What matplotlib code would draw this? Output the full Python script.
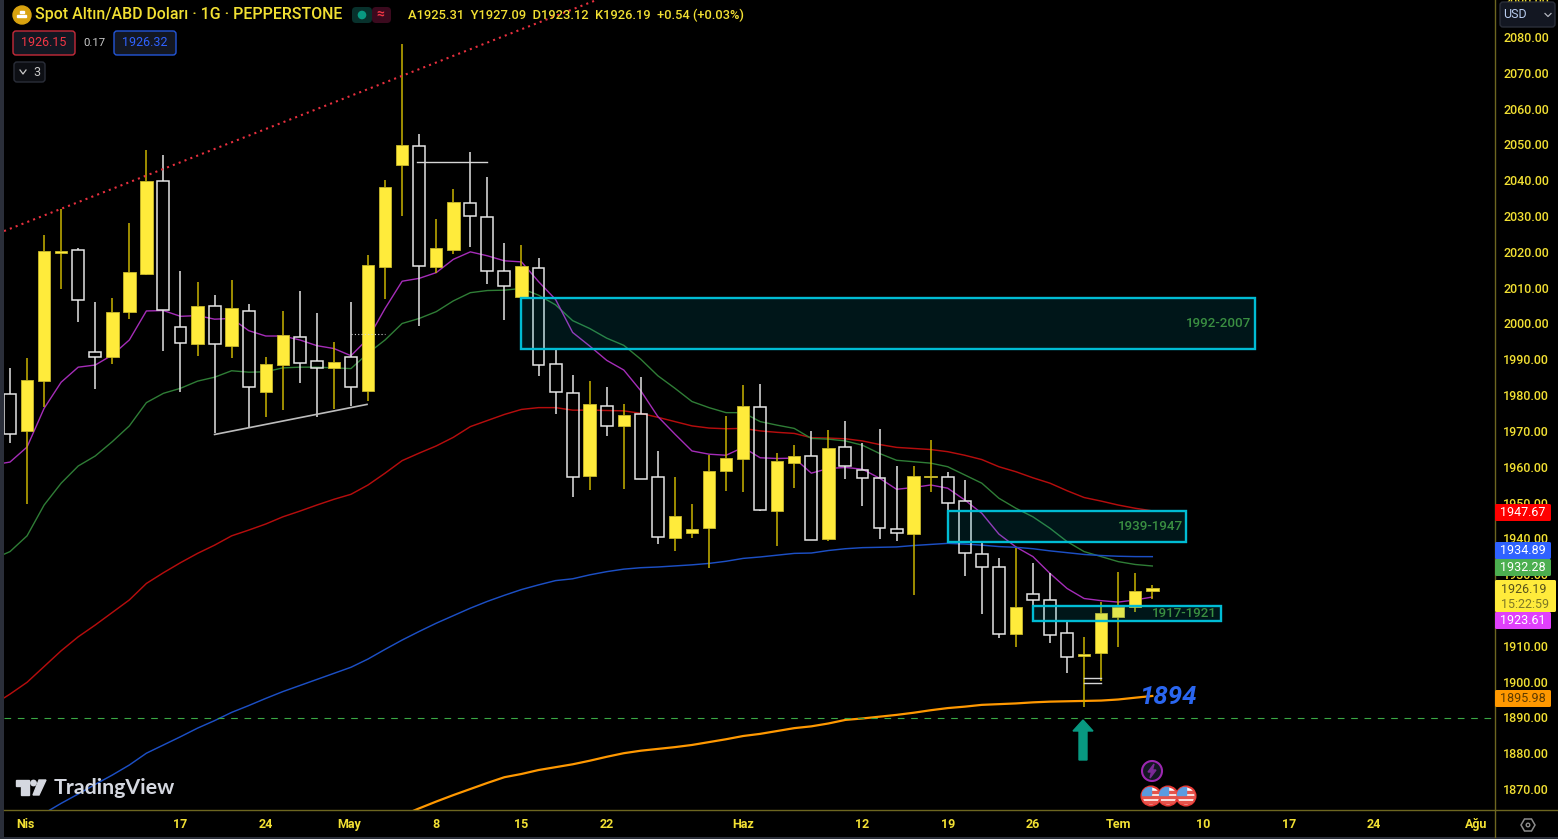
import numpy as np
import matplotlib
matplotlib.use('Agg')
import matplotlib.pyplot as plt
from matplotlib.patches import Circle, FancyBboxPatch, Polygon, Rectangle

plt.rcParams['font.family'] = ['Roboto', 'DejaVu Sans']

# daily candles
opens = [1980.2, 1969.9, 1983.8, 2019.6, 2020.5, 1992.1, 1990.6, 2003.1, 2013.9, 2039.9,
         1998.9, 1994.4, 2005.0, 1993.7, 2003.5, 1981.0, 1988.3, 1996.3, 1989.6, 1987.5,
         1990.7, 1981.2, 2015.9, 2044.3, 2049.6, 2015.7, 2020.5, 2033.6, 2029.6, 2014.6,
         2007.3, 2015.4, 1988.7, 1980.7, 1957.4, 1977.0, 1971.3, 1974.8, 1957.1, 1940.0,
         1941.4, 1942.8, 1958.7, 1962.2, 1976.8, 1947.6, 1961.0, 1963.1, 1939.7, 1965.4,
         1959.2, 1956.8, 1942.7, 1941.1, 1957.0, 1957.2, 1950.3, 1935.5, 1931.9, 1913.3,
         1924.4, 1922.7, 1913.6, 1907.1, 1907.9, 1918.1, 1920.7, 1925.31]
highs = [1987.5, 1990.3, 2024.7, 2032.1, 2021.2, 2006.1, 2007.2, 2028.0, 2048.4, 2047.0,
         2014.6, 2011.5, 2007.9, 2012.1, 2005.3, 1990.5, 2003.6, 2009.0, 2003.0, 1994.7,
         2005.9, 2019.2, 2040.2, 2078.0, 2052.8, 2029.2, 2037.5, 2048.0, 2040.8, 2022.4,
         2021.9, 2018.2, 1992.6, 1985.6, 1983.9, 1982.3, 1977.5, 1985.1, 1964.4, 1957.0,
         1949.6, 1963.3, 1974.3, 1982.8, 1983.1, 1963.7, 1966.1, 1970.1, 1970.3, 1972.9,
         1966.5, 1970.6, 1960.1, 1960.1, 1967.5, 1958.4, 1956.3, 1939.0, 1934.5, 1937.2,
         1933.0, 1930.2, 1916.7, 1912.5, 1922.3, 1930.5, 1930.2, 1927.09]
lows = [1966.7, 1949.6, 1976.8, 2009.6, 2000.5, 1981.6, 1988.6, 2001.2, 2013.6, 1992.4,
        1981.0, 1990.9, 1969.3, 1990.3, 1971.2, 1973.8, 1975.8, 1983.3, 1974.0, 1976.1,
        1977.0, 1978.3, 2006.8, 2030.1, 1999.4, 2014.2, 2019.3, 2021.3, 2011.1, 2000.9,
        2007.0, 1985.2, 1974.7, 1951.6, 1953.5, 1968.7, 1953.9, 1956.5, 1938.5, 1936.5,
        1940.0, 1931.7, 1953.3, 1953.0, 1947.7, 1938.0, 1954.1, 1939.4, 1939.3, 1956.5,
        1949.0, 1939.7, 1939.3, 1924.3, 1953.0, 1947.7, 1929.5, 1918.9, 1912.1, 1909.7,
        1917.0, 1910.7, 1902.5, 1892.8, 1900.2, 1909.7, 1919.5, 1923.12]
closes = [1969.1, 1984.2, 2020.3, 2020.3, 2006.6, 1990.7, 2003.3, 2014.3, 2039.7, 2003.8,
          1994.6, 2005.0, 1994.4, 2004.4, 1982.2, 1988.8, 1996.7, 1989.0, 1987.6, 1989.3,
          1982.2, 2016.3, 2038.2, 2049.9, 2016.0, 2021.2, 2034.0, 2029.9, 2014.6, 2010.6,
          2016.1, 1988.4, 1981.0, 1957.1, 1977.4, 1971.4, 1974.5, 1956.7, 1940.4, 1946.3,
          1942.7, 1958.9, 1962.3, 1977.0, 1948.0, 1961.5, 1962.9, 1939.4, 1965.1, 1960.2,
          1956.8, 1942.9, 1941.4, 1957.5, 1957.4, 1950.0, 1935.8, 1932.0, 1913.4, 1920.8,
          1922.7, 1913.0, 1906.9, 1907.7, 1919.1, 1920.9, 1925.3, 1926.19]

# moving averages, first value sits one bar left of the first candle
ma_purple = [1960.5, 1961.3, 1965.5, 1976.3, 1983.6, 1987.8, 1988.4, 1991.2, 1995.4, 2003.5, 2003.6,
             2002.0, 2002.2, 2001.2, 2001.4, 1998.0, 1996.5, 1996.5, 1995.4, 1993.8, 1993.0,
             1991.0, 1995.8, 2004.2, 2011.8, 2012.6, 2014.2, 2017.9, 2020.0, 2018.9, 2017.5,
             2017.2, 2011.7, 2006.7, 1997.5, 1993.7, 1989.7, 1987.0, 1981.2, 1974.0, 1969.1,
             1964.4, 1963.5, 1963.2, 1965.4, 1962.5, 1962.3, 1962.4, 1958.2, 1959.5, 1959.8,
             1959.3, 1956.8, 1953.7, 1954.2, 1954.9, 1954.0, 1950.7, 1947.0, 1941.2, 1937.6,
             1934.9, 1930.2, 1926.0, 1923.2, 1922.6, 1922.2, 1922.8, 1923.61]
ma_green = [1934.2, 1936.3, 1940.7, 1949.3, 1955.4, 1960.2, 1963.0, 1967.0, 1971.4, 1977.9, 1980.5,
            1981.9, 1983.9, 1985.0, 1986.8, 1986.4, 1986.5, 1987.6, 1987.8, 1987.8, 1987.6,
            1987.4, 1991.7, 1995.4, 2000.0, 2001.4, 2003.3, 2006.3, 2008.6, 2009.2, 2009.3,
            2009.8, 2007.9, 2005.2, 2000.8, 1998.6, 1995.9, 1993.9, 1990.0, 1985.4, 1981.9,
            1978.2, 1976.5, 1975.1, 1975.1, 1972.6, 1971.6, 1970.7, 1967.9, 1967.7, 1967.2,
            1966.0, 1963.7, 1961.8, 1961.4, 1961.0, 1960.0, 1957.7, 1955.4, 1951.2, 1948.4,
            1946.0, 1942.8, 1939.1, 1936.3, 1934.9, 1933.5, 1932.7, 1932.28]
ma_red = [1893.5, 1896.5, 1899.8, 1904.2, 1908.6, 1912.5, 1915.8, 1919.3, 1922.8, 1927.4, 1930.4,
          1933.2, 1935.8, 1938.1, 1940.7, 1942.3, 1944.0, 1946.0, 1947.6, 1949.3, 1950.9,
          1952.3, 1954.9, 1958.2, 1961.7, 1963.8, 1965.8, 1968.2, 1971.2, 1972.9, 1974.6,
          1976.0, 1976.5, 1976.5, 1975.8, 1975.8, 1975.7, 1975.6, 1974.9, 1973.8, 1972.6,
          1971.4, 1970.8, 1970.6, 1970.7, 1970.0, 1969.6, 1969.3, 1968.1, 1968.0, 1967.8,
          1967.2, 1966.2, 1965.4, 1965.1, 1964.8, 1964.2, 1963.2, 1962.0, 1960.0, 1958.6,
          1956.9, 1955.4, 1953.3, 1951.4, 1950.4, 1949.3, 1948.4, 1947.67]
# these two come in from below the visible range
blue_start = 2
ma_blue = [1863.2, 1866.0, 1868.6, 1871.3, 1873.9, 1876.7, 1880.0, 1882.3, 1884.6, 1887.0,
           1889.1, 1891.4, 1893.3, 1895.3, 1897.2, 1898.9, 1900.6, 1902.3, 1904.0, 1906.3,
           1909.0, 1911.6, 1914.0, 1916.3, 1918.4, 1920.5, 1922.4, 1924.1, 1925.7, 1927.0,
           1928.2, 1928.7, 1929.8, 1930.7, 1931.4, 1931.8, 1932.0, 1932.3, 1932.6, 1933.0,
           1933.6, 1934.4, 1934.8, 1935.3, 1935.8, 1935.9, 1936.6, 1937.1, 1937.4, 1937.5,
           1937.6, 1938.0, 1938.3, 1938.6, 1938.4, 1938.1, 1937.7, 1937.5, 1937.1, 1936.5,
           1936.0, 1935.5, 1935.2, 1935.0, 1934.9, 1934.89]
orange_start = 23
ma_orange = [1862.6, 1864.6, 1866.5, 1868.3, 1870.0, 1871.7, 1873.3, 1874.2, 1875.3, 1876.1,
             1876.9, 1877.9, 1879.0, 1880.0, 1880.7, 1881.2, 1881.7, 1882.3, 1883.1, 1883.9,
             1884.8, 1885.4, 1886.2, 1887.0, 1887.5, 1888.3, 1889.3, 1889.7, 1890.2, 1890.7,
             1891.3, 1892.0, 1892.6, 1893.0, 1893.5, 1893.7, 1893.9, 1894.2, 1894.4, 1894.5,
             1894.6, 1894.7, 1895.0, 1895.5, 1895.98]

# supply / demand zones
zone_start = [30, 55, 60]
zone_end = [73, 69, 71]
zone_low = [1993.0, 1939.0, 1916.9]
zone_high = [2007.0, 1947.6, 1921.1]
zone_labels = ['1992-2007', '1939-1947', '1917-1921']

price_ticks = list(range(1870, 2100, 10))
time_ticks = [0.9, 10, 15, 19.9, 25, 30, 35, 43, 50, 55, 60, 65, 70, 75, 80, 86]
time_labels = ['Nis', '17', '24', 'May', '8', '15', '22', 'Haz', '12', '19', '26', 'Tem',
               '10', '17', '24', 'Ağu']

tag_values = ['1947.67', '1934.89', '1932.28', '1923.61', '1895.98']
tag_colors = ['#ff0000', '#2f62ff', '#4caf50', '#e040fb', '#ff9800']
tag_text = ['white', 'white', 'white', 'white', '#5c3a00']
tag_top = [504, 542, 559, 612, 690]

YELLOW = '#ffeb3b'
WICK_Y = '#c9b400'
WHITE = '#e4e4e4'
TICK = '#f2e033'
CYAN = '#00bcd4'
W, H = 1558, 839

fig = plt.figure(figsize=(W / 100, H / 100), dpi=100, facecolor='black')
ax = fig.add_axes([4 / W, (H - 810) / H, 1491 / W, 810 / H], facecolor='black')
ax.set_xlim(-0.352, 87.1)
ax.set_ylim(1864.14, 2090.33)
for s in ax.spines.values():
    s.set_visible(False)
ax.yaxis.tick_right()
ax.set_yticks(price_ticks)
ax.set_yticklabels(['%.2f' % p for p in price_ticks], fontsize=9, color=TICK, fontweight='medium')
ax.set_xticks(time_ticks)
ax.set_xticklabels(time_labels, fontsize=9, color=TICK, fontweight='bold')
ax.tick_params(axis='y', length=0, pad=5.8)
ax.tick_params(axis='x', length=0, pad=6)

# moving averages go under the candles
ma_x = np.arange(-1, 68)
ax.plot(ma_x, ma_red, color='#b50d0d', lw=1.05, zorder=2)
ax.plot(ma_x, ma_green, color='#2f7d36', lw=1.0, zorder=2)
ax.plot(ma_x, ma_purple, color='#a52db8', lw=1.0, zorder=2)
ax.plot(np.arange(blue_start, 68), ma_blue, color='#1c4fc4', lw=1.05, zorder=2)
ax.plot(np.arange(orange_start, 68), ma_orange, color='#ff9800', lw=1.6, zorder=2)

# horizontal level at 1889.7
ax.axhline(1889.7, color='#3aa845', lw=0.8, ls=(0, (6, 6)), zorder=2)

# candles: yellow closes up, white is hollow
for i in range(len(opens)):
    top = max(opens[i], closes[i])
    bot = min(opens[i], closes[i])
    up = closes[i] >= opens[i]
    wick = WICK_Y if up else WHITE
    ax.vlines(i, top, highs[i], color=wick, lw=1.1, zorder=3)
    ax.vlines(i, lows[i], bot, color=wick, lw=1.1, zorder=3)
    if up:
        ax.bar(i, top - bot, bottom=bot, width=0.73, color=YELLOW, edgecolor='#c9b82c', lw=0.6, zorder=4)
    else:
        ax.bar(i, top - bot, bottom=bot, width=0.70, facecolor='none', edgecolor=WHITE, lw=1.1, zorder=4)

# drawings on the chart
ax.plot([-0.352, 34.4], [2025.8, 2090.33], color='#e8303f', lw=1.5, ls=(0, (1, 2)), zorder=5)
ax.plot([12, 20.94], [1969.0, 1977.4], color='#bdbdbd', lw=1.2, zorder=5)
ax.plot([23.9, 28], [2045, 2045], color='#d6d6d6', lw=1.0, zorder=5)
ax.plot([20, 22], [1997, 1997], color='#d6d6d6', lw=0.8, ls=(0, (1, 2)), zorder=5)
ax.plot([63, 64], [1900.9, 1900.9], color='#d6d6d6', lw=1.0, zorder=5)
ax.plot([63, 64], [1899.5, 1899.5], color='#d6d6d6', lw=1.0, zorder=5)

for x0, x1, lo, hi, lab in zip(zone_start, zone_end, zone_low, zone_high, zone_labels):
    ax.add_patch(Rectangle((x0, lo), x1 - x0, hi - lo, facecolor=(0, 0.737, 0.831, 0.12), edgecolor=CYAN, lw=1.7, zorder=6))
    ax.text(x1 - 0.2, (lo + hi) / 2, lab, color='#3a8f41', fontsize=9.6, fontweight='medium', ha='right', va='center', zorder=7)

ax.text(66.2, 1895.7, '1894', color='#2a66f0', fontsize=18.6, fontweight='bold', style='italic', va='center', zorder=7)

# everything around the chart is placed in screen pixels
ui = fig.add_axes([0, 0, 1, 1], facecolor='none')
ui.set_xlim(0, W)
ui.set_ylim(H, 0)
ui.axis('off')

ui.add_patch(Rectangle((0, 0), 4, H, color='#2a2e39', lw=0))
ui.add_patch(Rectangle((0, 837), W, 2, color='#2a2e39', lw=0))
ui.plot([1495, 1495], [0, 837], color='#6d6620', lw=1)
ui.plot([4, W], [810, 810], color='#6d6620', lw=1)


def box(x, y, w, h, fc, ec, r=2, lw=1.0, z=10):
    ui.add_patch(FancyBboxPatch((x + r, y + r), w - 2 * r, h - 2 * r, boxstyle='round,pad=%s,rounding_size=%s' % (r, r),
                                facecolor=fc, edgecolor=ec, lw=lw, zorder=z, mutation_aspect=1))


# price tags
for val, col, tc, top in zip(tag_values, tag_colors, tag_text, tag_top):
    box(1495, top, 56, 17, col, col, r=1.5, lw=0)
    ui.text(1523, top + 8.7, val, color=tc, fontsize=9, ha='center', va='center', zorder=11)
box(1495, 580, 61, 32, YELLOW, YELLOW, r=1.5, lw=0)
ui.text(1524, 589.5, '1926.19', color='#57521c', fontsize=9, ha='center', va='center', zorder=11)
ui.text(1525, 604, '15:22:59', color='#7f7826', fontsize=9, ha='center', va='center', zorder=11)

# header
ui.add_patch(Circle((22, 15), 9, color='#d9a30f', zorder=10))
ui.add_patch(Rectangle((17.5, 15), 9, 2.2, color='white', zorder=11))
ui.add_patch(Rectangle((20, 11), 4, 2.2, color='white', zorder=11))
ui.text(35, 15, 'Spot Altın/ABD Doları · 1G · PEPPERSTONE', color=TICK, fontsize=11.4, va='center', zorder=11, fontweight='medium')
box(352, 7, 20, 16, '#08312c', '#08312c', r=4, lw=0)
box(372, 7, 19, 16, '#3b0a1e', '#3b0a1e', r=4, lw=0)
ui.add_patch(Circle((362, 15), 3.6, color='#089981', zorder=11))
ui.text(380, 15, '≈', color='#f23645', fontsize=10, ha='center', va='center', zorder=11, fontweight='bold')
ui.text(408, 15, 'A1925.31  Y1927.09  D1923.12  K1926.19  +0.54 (+0.03%)', color=TICK, fontsize=9.25, va='center', zorder=11, fontweight='medium')

box(13, 31, 62, 24, '#131722', '#c52b3a', r=3, lw=1)
ui.text(44, 43, '1926.15', color='#f23645', fontsize=9, ha='center', va='center', zorder=11)
ui.text(94, 43, '0.17', color='#c9c9c9', fontsize=8.2, ha='center', va='center', zorder=11)
box(114, 31, 62, 24, '#131722', '#2356d8', r=3, lw=1)
ui.text(145, 43, '1926.32', color='#2f62ff', fontsize=9, ha='center', va='center', zorder=11)
box(14, 62, 31, 20, '#0d0f14', '#2a2e39', r=3, lw=1)
ui.plot([20, 23, 26], [70, 74, 70], color='#c9c9c9', lw=0.9, zorder=11)
ui.text(37, 72, '3', color='#c9c9c9', fontsize=9, ha='center', va='center', zorder=11)

# currency button
box(1500, 2, 55, 25, '#131722', '#2a2e39', r=3, lw=1)
ui.text(1503, 15, 'USD', color='#b9cdf0', fontsize=9, va='center', zorder=11)
ui.plot([1545, 1548, 1551], [13.5, 16.5, 13.5], color='#b2b5be', lw=0.9, zorder=11)

# logo
ui.add_patch(Polygon([(16, 780), (29, 780), (29, 795), (21, 795), (21, 786), (16, 786)], color='#d5d8e0', zorder=9))
ui.add_patch(Circle((33.5, 783), 2.7, color='#d5d8e0', zorder=9))
ui.add_patch(Polygon([(39, 780), (46, 780), (39, 795), (33, 795)], color='#d5d8e0', zorder=9))
ui.text(54, 788, 'TradingView', color='#d5d8e0', fontsize=15.4, family='Lato', fontweight='bold', va='center', zorder=9)

# arrow at the low
ui.add_patch(Polygon([(1083, 720), (1093, 731), (1087, 731), (1087, 760), (1079, 760), (1079, 731), (1073, 731)], color='#089981', zorder=9))

# event icons
ui.add_patch(Circle((1152, 771), 10, facecolor='#131722', edgecolor='#9c27b0', lw=1.5, zorder=9))
ui.add_patch(Polygon([(1154, 764), (1148, 772), (1151.5, 772), (1150, 778), (1156, 770), (1152.5, 770)], color='#7b2a96', zorder=10))
for fx in [1186, 1168, 1151]:
    disc = Circle((fx, 796), 9.5, facecolor='white', edgecolor='#e53935', lw=1.5, zorder=9)
    ui.add_patch(disc)
    for sy in [791, 796, 801]:
        st = Rectangle((fx - 9, sy), 18, 2.2, color='#e5534b', zorder=9.5)
        ui.add_patch(st)
        st.set_clip_path(disc)
    cant = Rectangle((fx - 9, 787), 9, 8, color='#5a9be0', zorder=9.6)
    ui.add_patch(cant)
    cant.set_clip_path(disc)

# settings hexagon
ui.add_patch(Polygon([(1521, 825), (1524.5, 819), (1531.5, 819), (1535, 825), (1531.5, 831), (1524.5, 831)], facecolor='none', edgecolor='#8c8c8c', lw=1.1, zorder=9))
ui.add_patch(Circle((1528, 825), 1.8, facecolor='none', edgecolor='#8c8c8c', lw=1, zorder=9))

plt.savefig('out.png', dpi=100, facecolor='black')
